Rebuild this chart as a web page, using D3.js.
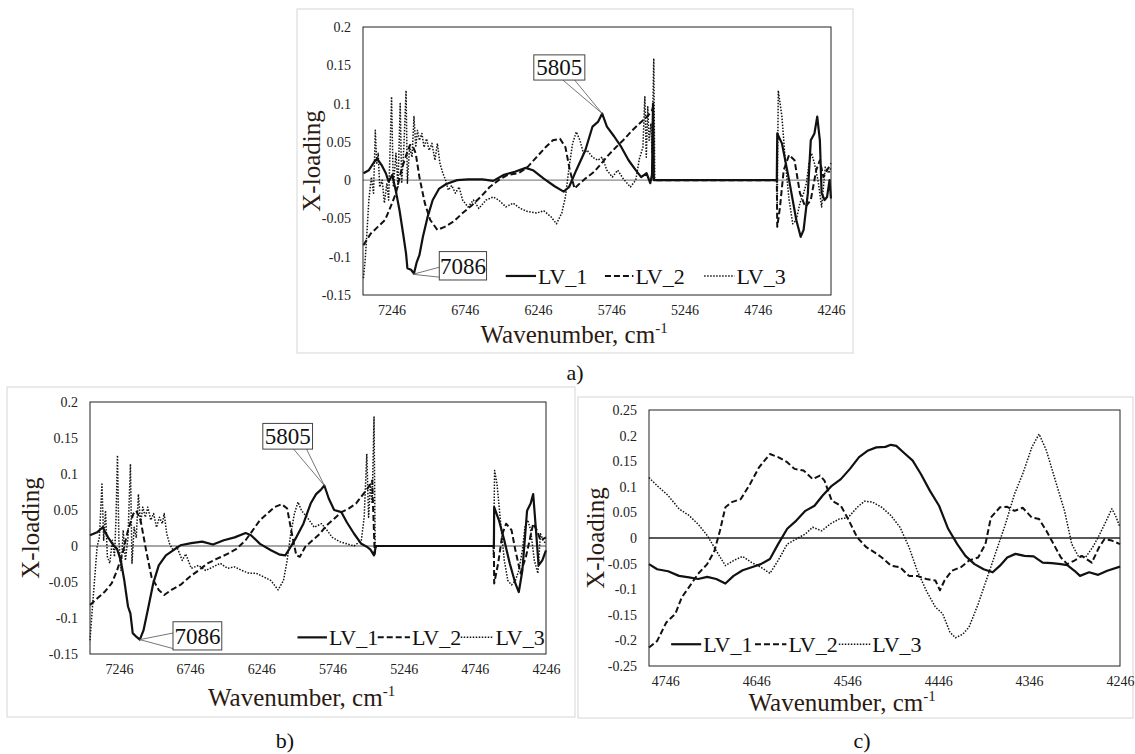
<!DOCTYPE html>
<html>
<head>
<meta charset="utf-8">
<script src="https://cdn.jsdelivr.net/npm/d3@7"></script>
<style>
body{margin:0;background:#fff}
svg{display:block}
svg text{font-family:"Liberation Serif","DejaVu Serif",serif !important}
</style>
</head>
<body>
<svg id="chart" width="1135" height="754" font-family="Liberation Serif, DejaVu Serif, serif"></svg>
<script>
// tick values
let xTicksAB = [7246, 6746, 6246, 5746, 5246, 4746, 4246]
let xTicksC = [4746, 4646, 4546, 4446, 4346, 4246]
let yTicksAB = [-0.15, -0.1, -0.05, 0, 0.05, 0.1, 0.15, 0.2]
let yTicksC = [-0.25, -0.2, -0.15, -0.1, -0.05, 0, 0.05, 0.1, 0.15, 0.2, 0.25]
let seriesNames = ['LV_1', 'LV_2', 'LV_3']

// panel a) [wavenumber, loading]
let lv1A = [[7438,0.009],[7401,0.013],[7364,0.024],[7345,0.028],[7315,0.020],[7285,0.009],[7266,-0.002],[7241,0.007],[7216,-0.015],[7192,-0.039],[7167,-0.070],[7147,-0.096],[7138,-0.115],[7113,-0.117],[7093,-0.122],[7074,-0.107],[7056,-0.098],[7032,-0.074],[7000,-0.048],[6965,-0.026],[6921,-0.011],[6872,-0.005],[6798,0],[6724,0.001],[6625,0.001],[6552,-0.001],[6478,0.007],[6404,0.011],[6330,0.016],[6281,0.013],[6207,0.002],[6133,-0.008],[6071,-0.015],[6034,-0.009],[5985,0.013],[5923,0.039],[5874,0.070],[5837,0.076],[5808,0.087],[5776,0.070],[5726,0.057],[5677,0.043],[5628,0.026],[5579,0.013],[5542,0.004],[5505,0.009],[5480,-0.004],[5468,0.007],[5461,0.100],[5456,0],[4616,0],[4613,0.061],[4581,0.048],[4532,0],[4483,-0.052],[4453,-0.074],[4433,-0.065],[4404,-0.017],[4384,0.052],[4359,0.061],[4340,0.083],[4322,0.052],[4310,-0.017],[4290,-0.026],[4273,-0.022],[4256,0],[4246,-0.024]]
let lv2A = [[7438,-0.085],[7389,-0.070],[7340,-0.061],[7290,-0.052],[7253,-0.035],[7216,-0.017],[7179,0.013],[7142,0.035],[7120,0.046],[7100,0.044],[7081,0.035],[7056,0.004],[7019,-0.030],[6982,-0.052],[6933,-0.065],[6884,-0.061],[6822,-0.054],[6761,-0.043],[6699,-0.033],[6638,-0.022],[6576,-0.009],[6515,0],[6453,0.007],[6379,0.009],[6318,0.017],[6256,0.030],[6195,0.043],[6145,0.052],[6096,0.054],[6059,0.043],[6029,0.013],[5997,-0.011],[5960,-0.004],[5923,0.002],[5862,0.011],[5813,0.022],[5764,0.033],[5714,0.043],[5665,0.052],[5603,0.065],[5542,0.076],[5492,0.085],[5468,0.091],[5461,0.096],[5456,0],[4616,0],[4613,-0.061],[4594,-0.035],[4569,0.013],[4532,0.033],[4495,0.026],[4458,-0.017],[4421,-0.035],[4384,-0.026],[4347,0.013],[4322,0.026],[4298,0.004],[4273,0.013],[4246,0.022]]
let lv3A = [[7438,-0.128],[7426,-0.104],[7413,-0.065],[7401,-0.026],[7384,0.004],[7369,-0.017],[7357,0.065],[7347,0.022],[7337,0.035],[7327,-0.009],[7310,0],[7295,-0.030],[7278,-0.004],[7266,-0.026],[7246,0.109],[7234,-0.009],[7216,0.035],[7202,-0.009],[7187,0.100],[7177,-0.004],[7162,0.043],[7147,0.117],[7138,-0.004],[7123,0.043],[7106,0.030],[7093,0.083],[7081,0.043],[7069,0.065],[7056,0.052],[7039,0.061],[7024,0.043],[7007,0.054],[6990,0.039],[6970,0.048],[6950,0.026],[6933,0.048],[6916,0.022],[6896,0.009],[6877,0],[6859,-0.013],[6835,-0.007],[6810,-0.017],[6785,-0.009],[6761,-0.026],[6724,-0.035],[6687,-0.026],[6650,-0.037],[6601,-0.026],[6552,-0.022],[6515,-0.026],[6465,-0.035],[6416,-0.030],[6367,-0.037],[6318,-0.041],[6256,-0.043],[6207,-0.040],[6157,-0.048],[6120,-0.057],[6084,-0.043],[6059,-0.022],[6034,0.017],[6010,0.048],[5985,0.063],[5960,0.052],[5936,0.035],[5911,0.039],[5874,0.030],[5837,0.026],[5808,0.030],[5776,0.013],[5739,0.004],[5702,0.013],[5665,0.002],[5616,-0.009],[5579,0],[5554,0.028],[5530,0.043],[5517,0.109],[5507,0.030],[5497,0.096],[5488,0.052],[5475,0.074],[5468,0.035],[5456,0.159],[5449,0],[4616,0],[4613,-0.035],[4606,0.117],[4581,0.083],[4557,0.022],[4532,-0.026],[4507,-0.057],[4483,-0.052],[4458,-0.030],[4433,-0.017],[4414,-0.004],[4396,0.022],[4379,0.035],[4359,0.022],[4335,0],[4310,-0.035],[4285,0.017],[4261,0.009],[4246,0.017]]

// panel b)
let lv1B = [[7449,0.015],[7399,0.019],[7360,0.026],[7322,0.012],[7284,0.001],[7259,-0.004],[7233,-0.020],[7208,-0.048],[7182,-0.084],[7165,-0.094],[7149,-0.121],[7124,-0.126],[7099,-0.130],[7073,-0.117],[7043,-0.089],[7005,-0.052],[6966,-0.027],[6916,-0.013],[6865,-0.006],[6814,0.001],[6738,0.004],[6661,0.006],[6585,0.002],[6509,0.008],[6433,0.012],[6356,0.018],[6318,0.015],[6255,0.003],[6178,-0.006],[6115,-0.012],[6077,-0.013],[6039,-0.001],[6000,0.012],[5950,0.031],[5899,0.059],[5861,0.072],[5828,0.078],[5803,0.084],[5772,0.066],[5734,0.050],[5683,0.047],[5645,0.033],[5594,0.017],[5543,0.003],[5505,-0.001],[5479,-0.005],[5454,-0.013],[5441,0],[4612,0],[4610,0.054],[4577,0.036],[4539,0.008],[4501,-0.024],[4461,-0.052],[4437,-0.064],[4412,-0.034],[4379,0.049],[4354,0.059],[4336,0.072],[4318,0.026],[4298,-0.027],[4272,-0.020],[4246,-0.006]]
let lv2B = [[7449,-0.082],[7399,-0.073],[7348,-0.064],[7297,-0.052],[7259,-0.034],[7221,-0.011],[7182,0.022],[7144,0.045],[7124,0.049],[7094,0.036],[7055,-0.006],[7017,-0.043],[6966,-0.061],[6928,-0.068],[6877,-0.061],[6814,-0.054],[6750,-0.043],[6687,-0.034],[6623,-0.024],[6560,-0.018],[6483,-0.011],[6420,-0.004],[6356,0.008],[6305,0.022],[6255,0.036],[6204,0.045],[6153,0.054],[6102,0.058],[6064,0.052],[6031,0.017],[6000,-0.013],[5975,-0.015],[5937,-0.001],[5886,0.008],[5835,0.017],[5785,0.029],[5734,0.038],[5683,0.047],[5632,0.052],[5581,0.059],[5530,0.072],[5492,0.082],[5467,0.091],[5449,-0.011],[5441,0],[4612,0],[4610,-0.052],[4582,-0.024],[4552,0.017],[4526,0.031],[4488,0.022],[4461,-0.006],[4425,-0.038],[4387,-0.015],[4361,0.008],[4336,0.031],[4310,0.022],[4285,0.008],[4246,0.012]]
let lv3B = [[7449,-0.131],[7437,-0.098],[7419,-0.052],[7399,-0.001],[7383,0.012],[7365,0.086],[7353,0.008],[7340,0.049],[7327,-0.015],[7310,-0.024],[7292,0.008],[7277,-0.015],[7266,0.040],[7256,0.126],[7246,0.008],[7231,-0.034],[7216,0.022],[7200,-0.020],[7182,0.012],[7165,0.114],[7154,-0.024],[7139,0.026],[7124,0.012],[7109,0.072],[7094,0.031],[7078,0.054],[7060,0.040],[7043,0.054],[7022,0.036],[7002,0.045],[6982,0.026],[6961,0.040],[6941,0.031],[6928,0.045],[6910,0.017],[6890,0.003],[6865,-0.006],[6839,-0.001],[6801,-0.020],[6776,-0.011],[6738,-0.031],[6687,-0.027],[6636,-0.034],[6585,-0.029],[6534,-0.024],[6483,-0.031],[6433,-0.029],[6382,-0.034],[6331,-0.038],[6280,-0.038],[6229,-0.043],[6178,-0.048],[6128,-0.061],[6090,-0.048],[6064,-0.020],[6039,0.017],[6013,0.045],[5988,0.061],[5963,0.049],[5924,0.040],[5874,0.026],[5823,0.031],[5785,0.022],[5747,0.012],[5696,0.006],[5645,0.003],[5594,0],[5543,0.008],[5523,0.040],[5505,0.128],[5492,0.040],[5479,0.086],[5467,0.059],[5454,0.179],[5446,0],[4617,0],[4615,-0.015],[4607,0.105],[4590,0.086],[4564,0.031],[4539,-0.020],[4514,-0.048],[4488,-0.054],[4461,-0.048],[4437,-0.034],[4412,-0.006],[4394,0.026],[4374,0.036],[4354,0.022],[4328,-0.020],[4303,-0.038],[4285,0.017],[4266,0.008],[4246,0.003]]

// panel c)
let lv1C = [[4764,-0.051],[4755,-0.061],[4743,-0.065],[4731,-0.074],[4720,-0.077],[4710,-0.080],[4700,-0.076],[4690,-0.080],[4680,-0.089],[4671,-0.074],[4661,-0.063],[4651,-0.057],[4641,-0.051],[4631,-0.041],[4622,-0.012],[4612,0.018],[4602,0.034],[4592,0.053],[4582,0.063],[4573,0.083],[4563,0.102],[4553,0.115],[4543,0.135],[4533,0.158],[4523,0.171],[4514,0.177],[4504,0.178],[4498,0.182],[4492,0.180],[4484,0.167],[4474,0.151],[4465,0.125],[4455,0.092],[4445,0.063],[4435,0.018],[4425,-0.012],[4416,-0.035],[4406,-0.051],[4396,-0.061],[4386,-0.067],[4378,-0.054],[4370,-0.038],[4361,-0.031],[4351,-0.035],[4341,-0.036],[4331,-0.048],[4321,-0.049],[4311,-0.051],[4304,-0.053],[4296,-0.064],[4290,-0.074],[4280,-0.067],[4270,-0.072],[4260,-0.064],[4246,-0.056]]
let lv2C = [[4764,-0.214],[4755,-0.201],[4745,-0.165],[4735,-0.148],[4728,-0.116],[4720,-0.096],[4710,-0.070],[4700,-0.051],[4692,-0.025],[4686,0.014],[4680,0.060],[4673,0.070],[4663,0.076],[4653,0.105],[4643,0.138],[4631,0.164],[4622,0.158],[4612,0.148],[4604,0.135],[4594,0.132],[4584,0.115],[4576,0.122],[4571,0.112],[4563,0.073],[4553,0.063],[4545,0.037],[4535,0.001],[4525,-0.018],[4516,-0.028],[4508,-0.038],[4498,-0.054],[4488,-0.057],[4478,-0.074],[4469,-0.074],[4459,-0.080],[4449,-0.083],[4444,-0.102],[4439,-0.083],[4431,-0.064],[4421,-0.057],[4412,-0.044],[4402,-0.038],[4394,-0.012],[4388,0.040],[4378,0.060],[4370,0.061],[4362,0.053],[4353,0.059],[4343,0.040],[4335,0.037],[4327,0.014],[4319,-0.012],[4311,-0.038],[4304,-0.051],[4296,-0.044],[4288,-0.035],[4277,-0.048],[4269,-0.018],[4263,-0.002],[4255,-0.005],[4246,-0.012]]
let lv3C = [[4764,0.118],[4755,0.102],[4743,0.083],[4731,0.057],[4720,0.044],[4710,0.027],[4700,0.005],[4690,-0.025],[4680,-0.054],[4671,-0.044],[4661,-0.036],[4651,-0.048],[4641,-0.057],[4631,-0.069],[4622,-0.044],[4612,-0.012],[4602,-0.002],[4592,0.008],[4584,0.021],[4574,0.014],[4565,0.027],[4555,0.037],[4545,0.040],[4535,0.060],[4527,0.072],[4518,0.070],[4508,0.060],[4498,0.044],[4488,0.021],[4478,-0.018],[4469,-0.064],[4459,-0.103],[4449,-0.135],[4441,-0.148],[4433,-0.184],[4427,-0.195],[4419,-0.188],[4412,-0.174],[4402,-0.129],[4392,-0.077],[4382,-0.025],[4372,0.027],[4362,0.086],[4353,0.125],[4343,0.177],[4335,0.203],[4327,0.171],[4317,0.112],[4307,0.053],[4299,-0.012],[4292,-0.035],[4284,-0.038],[4276,-0.018],[4269,0.005],[4261,0.034],[4255,0.057],[4251,0.044],[4246,0.021]]

// labelled peaks [wavenumber, loading]
let peaksA = [[5808, 0.087], [7100, -0.123]]
let peaksB = [[5803, 0.084], [7099, -0.130]]
let peakLabels = ['5805', '7086']

let svg = d3.select('#chart')
let serif = '"Liberation Serif", "DejaVu Serif", serif'

let lineStyles = [
  {dash: null, w: 2.2},
  {dash: '6,3', w: 2},
  {dash: '1.5,1.5', w: 1.5}
]

let drawPanel = (p) => {
  let g = svg.append('g')

  g.append('rect')
   .attr('x', p.frame[0]).attr('y', p.frame[1])
   .attr('width', p.frame[2] - p.frame[0]).attr('height', p.frame[3] - p.frame[1])
   .attr('fill', 'none').attr('stroke', '#d6d6d6')

  let xScale = d3.scaleLinear().domain(p.xDomain).range([p.left, p.right])
  let yScale = d3.scaleLinear().domain(p.yDomain).range([p.bottom, p.top])

  g.append('line')
   .attr('x1', p.left).attr('x2', p.right)
   .attr('y1', yScale(0)).attr('y2', yScale(0))
   .attr('stroke', p.zeroColor).attr('stroke-width', 1.3)

  let line = d3.line().x(d => xScale(d[0])).y(d => yScale(d[1]))

  p.series.forEach((s, i) => {
    g.append('path')
     .datum(s)
     .attr('d', line)
     .attr('fill', 'none')
     .attr('stroke', '#111')
     .attr('stroke-width', lineStyles[i].w)
     .attr('stroke-dasharray', lineStyles[i].dash)
     .attr('stroke-linejoin', 'round')
  })

  g.append('rect')
   .attr('x', p.left).attr('y', p.top)
   .attr('width', p.right - p.left).attr('height', p.bottom - p.top)
   .attr('fill', 'none').attr('stroke', '#222').attr('stroke-width', 1)

  let xAxis = d3.axisBottom(xScale).tickValues(p.xTicks).tickSize(0).tickPadding(10)
                .tickFormat(d3.format('d'))
  g.append('g')
   .attr('transform', 'translate(0,' + p.bottom + ')')
   .call(xAxis)
   .call(a => a.select('.domain').remove())
   .attr('font-family', serif).attr('font-size', 14)
   .selectAll('text').attr('fill', '#222')

  let yAxis = d3.axisLeft(yScale).tickValues(p.yTicks).tickSize(0).tickPadding(12)
                .tickFormat(d => String(+d.toFixed(2)))
  g.append('g')
   .attr('transform', 'translate(' + p.left + ',0)')
   .call(yAxis)
   .call(a => a.select('.domain').remove())
   .attr('font-family', serif).attr('font-size', 14)
   .selectAll('text').attr('fill', '#222')

  g.append('text')
   .attr('transform', 'translate(' + (p.left - p.yLabelGap) + ',' + ((p.top + p.bottom) / 2) + ') rotate(-90)')
   .attr('text-anchor', 'middle').attr('dy', '0.35em')
   .attr('font-family', serif).attr('font-size', 25).attr('fill', '#2b1a12')
   .text('X-loading')

  let xl = g.append('text')
   .attr('x', p.left + p.xLabelFrac * (p.right - p.left))
   .attr('y', p.bottom + p.xLabelGap)
   .attr('text-anchor', 'middle')
   .attr('font-family', serif).attr('font-size', 25).attr('fill', '#2b1a12')
  xl.append('tspan').text('Wavenumber, cm')
  xl.append('tspan').attr('font-size', 15).attr('dy', -10).text('-1')

  // legend
  let w = p.right - p.left, h = p.bottom - p.top
  let ly = p.top + p.legend.y * h
  p.legend.items.forEach((it, i) => {
    g.append('line')
     .attr('x1', p.left + it[0] * w).attr('x2', p.left + it[1] * w - 2)
     .attr('y1', ly).attr('y2', ly)
     .attr('stroke', '#111')
     .attr('stroke-width', lineStyles[i].w)
     .attr('stroke-dasharray', lineStyles[i].dash)
    g.append('text')
     .attr('x', p.left + it[1] * w).attr('y', ly + 8)
     .attr('font-family', serif).attr('font-size', 22).attr('fill', '#111')
     .text(seriesNames[i])
  })

  // callouts
  if (p.callouts) {
    p.callouts.forEach((c, i) => {
      let x0 = p.left + c.box[0] * w, x1 = p.left + c.box[1] * w
      let y0 = p.top + c.box[2] * h, y1 = p.top + c.box[3] * h
      let tx = xScale(p.peaks[i][0]), ty = yScale(p.peaks[i][1])
      c.from.forEach(f => {
        let fx = c.side === 'bottom' ? x0 + f * (x1 - x0) : x0
        let fy = c.side === 'bottom' ? y1 : y0 + f * (y1 - y0)
        g.append('line')
         .attr('x1', fx).attr('y1', fy).attr('x2', tx).attr('y2', ty)
         .attr('stroke', '#666').attr('stroke-width', 0.9)
      })
      g.append('rect')
       .attr('x', x0).attr('y', y0).attr('width', x1 - x0).attr('height', y1 - y0)
       .attr('fill', '#fff').attr('stroke', '#444').attr('stroke-width', 1)
      g.append('text')
       .attr('x', (x0 + x1) / 2).attr('y', (y0 + y1) / 2 + 8)
       .attr('text-anchor', 'middle')
       .attr('font-family', serif).attr('font-size', 23).attr('fill', '#111')
       .text(peakLabels[i])
    })
  }

  svg.append('text')
   .attr('x', p.caption[0]).attr('y', p.caption[1])
   .attr('text-anchor', 'middle')
   .attr('font-family', serif).attr('font-size', 22).attr('fill', '#111')
   .text(p.caption[2])
}

drawPanel({
  frame: [297, 9, 853, 353],
  left: 363, right: 831, top: 27, bottom: 295,
  xDomain: [7441, 4246], yDomain: [-0.15, 0.2],
  xTicks: xTicksAB, yTicks: yTicksAB,
  series: [lv1A, lv2A, lv3A],
  zeroColor: '#888',
  yLabelGap: 52, xLabelFrac: 0.451, xLabelGap: 48,
  legend: {y: 0.929, items: [[0.305, 0.374], [0.517, 0.582], [0.729, 0.798]]},
  peaks: peaksA,
  callouts: [
    {box: [0.365, 0.474, 0.104, 0.198], side: 'bottom', from: [0.57, 0.80]},
    {box: [0.163, 0.264, 0.838, 0.944], side: 'left', from: [0.55, 0.9]}
  ],
  caption: [575, 380, 'a)']
})

drawPanel({
  frame: [7, 387, 575, 717],
  left: 90, right: 546, top: 402, bottom: 654,
  xDomain: [7449, 4246], yDomain: [-0.15, 0.2],
  xTicks: xTicksAB, yTicks: yTicksAB,
  series: [lv1B, lv2B, lv3B],
  zeroColor: '#888',
  yLabelGap: 60, xLabelFrac: 0.464, xLabelGap: 52,
  legend: {y: 0.934, items: [[0.455, 0.524], [0.631, 0.706], [0.813, 0.889]]},
  peaks: peaksB,
  callouts: [
    {box: [0.379, 0.488, 0.085, 0.187], side: 'bottom', from: [0.62, 0.88]},
    {box: [0.182, 0.289, 0.872, 0.984], side: 'left', from: [0.4, 0.95]}
  ],
  caption: [285, 748, 'b)']
})

drawPanel({
  frame: [578, 397, 1133, 718],
  left: 649, right: 1120, top: 410, bottom: 666,
  xDomain: [4764, 4246], yDomain: [-0.25, 0.25],
  xTicks: xTicksC, yTicks: yTicksC,
  series: [lv1C, lv2C, lv3C],
  zeroColor: '#222',
  yLabelGap: 54, xLabelFrac: 0.41, xLabelGap: 45,
  legend: {y: 0.915, items: [[0.047, 0.115], [0.225, 0.296], [0.403, 0.474]]},
  caption: [862, 748, 'c)']
})
</script>
</body>
</html>
